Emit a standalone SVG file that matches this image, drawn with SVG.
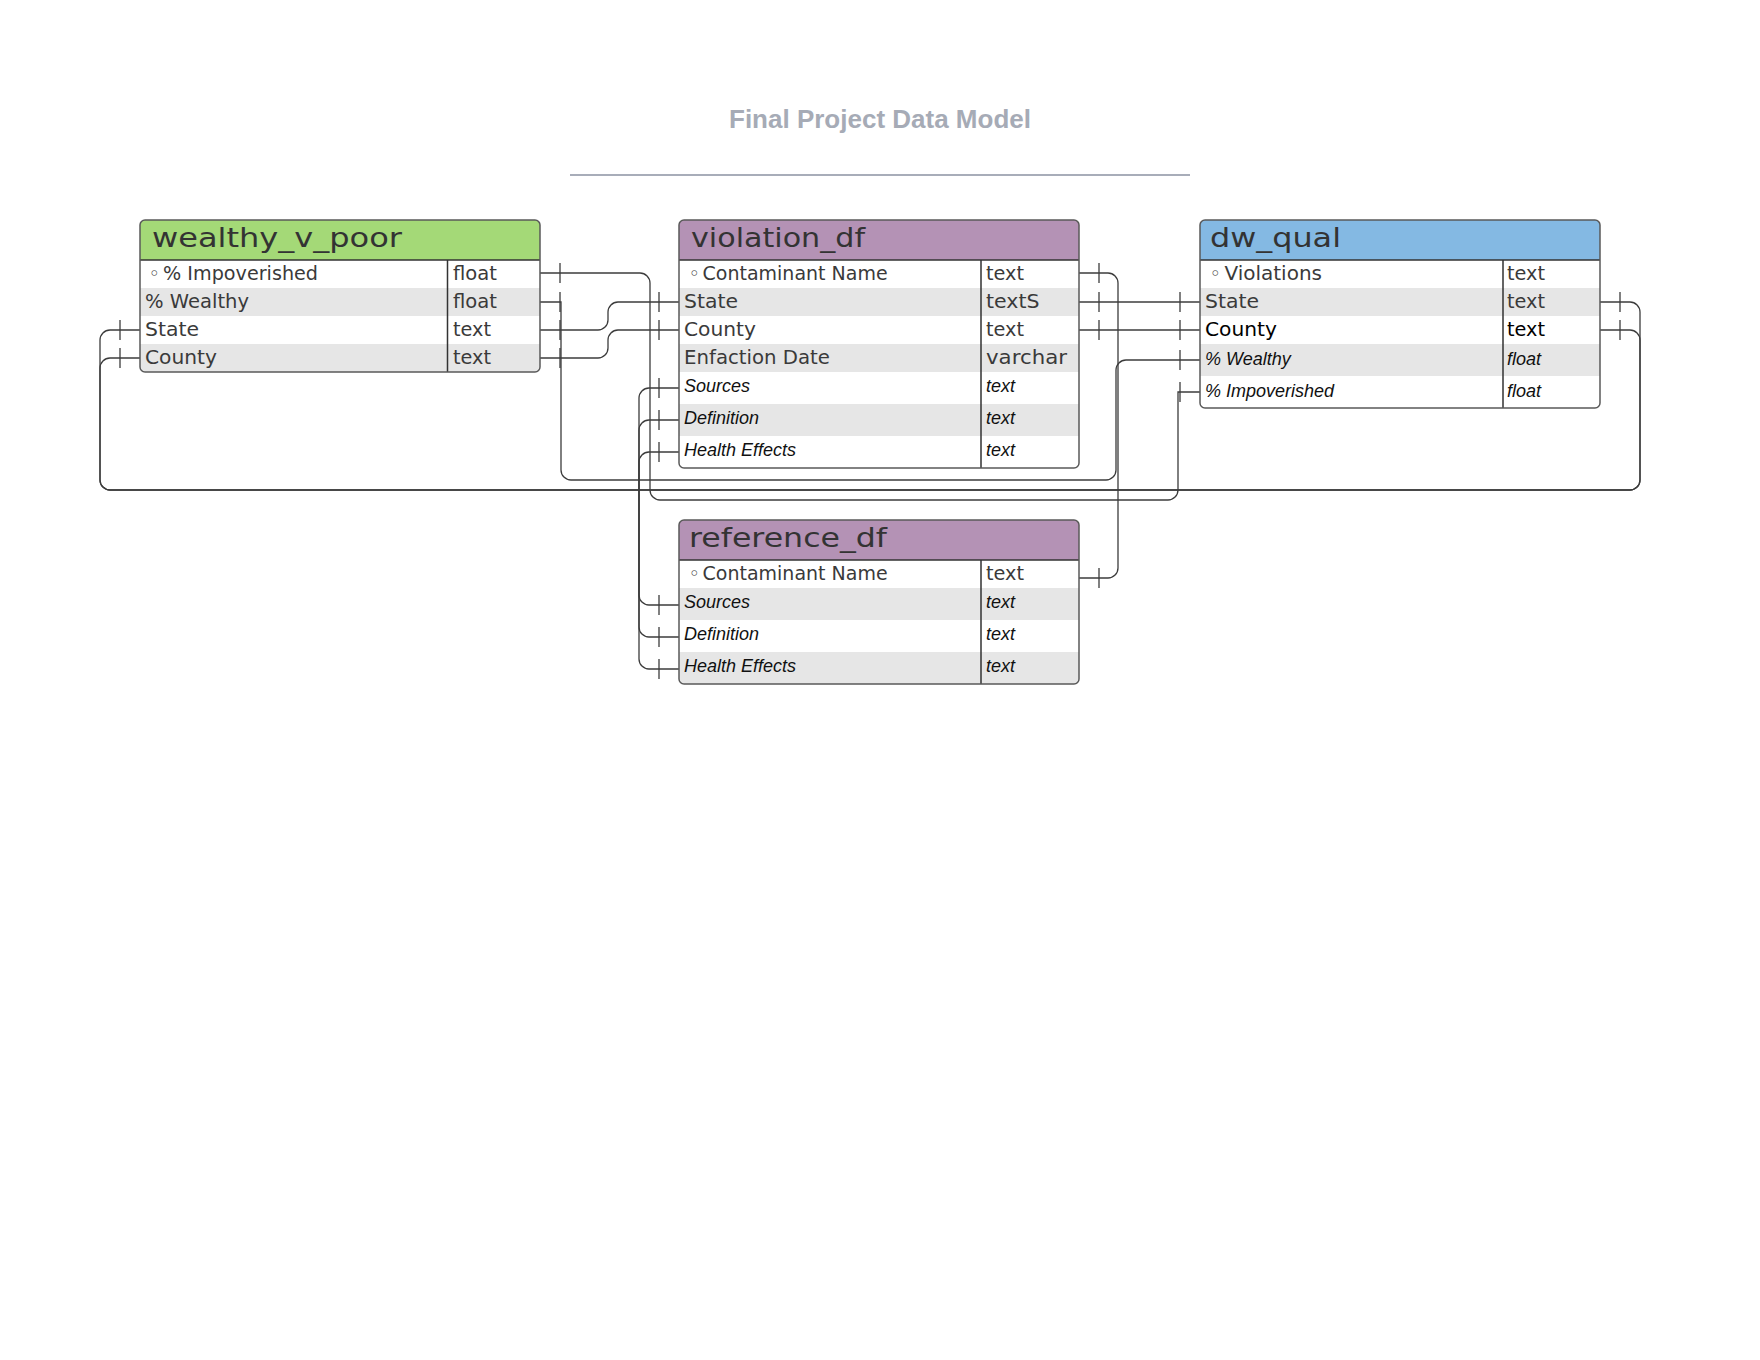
<svg xmlns="http://www.w3.org/2000/svg" width="1760" height="1360" viewBox="0 0 1760 1360">
<style>
.bg{fill:#fff}
.tb{fill:none;stroke:#5a5a5a;stroke-width:1.5}
.body{fill:#fff}
.hg{fill:#a4d977}
.hp{fill:#b492b5}
.hb{fill:#84b9e3}
.alt{fill:#e6e6e6}
.sep{stroke:#333;stroke-width:1.5;fill:none}
.ft{font-family:"DejaVu Sans","Liberation Sans",sans-serif;font-size:19px;fill:#3a3a3a}
.blk{fill:#000}
.hf{font-family:"DejaVu Sans","Liberation Sans",sans-serif;font-size:26px;fill:#333}
.it{font-family:"Liberation Sans",Arial,sans-serif;font-style:italic;font-size:18px;fill:#111}
.cn{fill:none;stroke:#3c3c3c;stroke-width:1.3;marker-start:url(#one);marker-end:url(#one)}
.title{font-family:"Liberation Sans",Arial,sans-serif;font-weight:bold;font-size:26px;fill:#a6abb6}
</style>
<defs>
<marker id="one" markerUnits="userSpaceOnUse" viewBox="-25 -12 30 24" refX="0" refY="0" markerWidth="30" markerHeight="24" orient="auto-start-reverse" overflow="visible">
<path d="M-20,-10 V10" stroke="#3c3c3c" stroke-width="1.3" fill="none"/>
</marker>
<clipPath id="cw"><rect x="140" y="220" width="400" height="152" rx="5"/></clipPath>
<clipPath id="cv"><rect x="679" y="220" width="400" height="248" rx="5"/></clipPath>
<clipPath id="cd"><rect x="1200" y="220" width="400" height="188" rx="5"/></clipPath>
<clipPath id="cr"><rect x="679" y="520" width="400" height="164" rx="5"/></clipPath>
</defs>
<rect class="bg" x="0" y="0" width="1760" height="1360"/>

<g id="title">
<text class="title" x="880" y="128" text-anchor="middle">Final Project Data Model</text>
<path d="M570,175 H1190" stroke="#a8adb9" stroke-width="2" fill="none"/>
</g>

<g id="connectors">
<path class="cn" d="M540,273 H640 A10,10 0 0 1 650,283 V490 A10,10 0 0 0 660,500 H1168 A10,10 0 0 0 1178,490 V392 H1200"/>
<path class="cn" d="M540,302 H561 V470 A10,10 0 0 0 571,480 H1106 A10,10 0 0 0 1116,470 V370 A10,10 0 0 1 1126,360 H1200"/>
<path class="cn" d="M540,330 H598 A10,10 0 0 0 608,320 V312 A10,10 0 0 1 618,302 H679"/>
<path class="cn" d="M540,358 H598 A10,10 0 0 0 608,348 V340 A10,10 0 0 1 618,330 H679"/>
<path class="cn" d="M140,330 H110 A10,10 0 0 0 100,340 V480 A10,10 0 0 0 110,490 H1630 A10,10 0 0 0 1640,480 V312 A10,10 0 0 0 1630,302 H1600"/>
<path class="cn" d="M140,358 H110 A10,10 0 0 0 100,368 V480 A10,10 0 0 0 110,490 H1630 A10,10 0 0 0 1640,480 V340 A10,10 0 0 0 1630,330 H1600"/>
<path class="cn" d="M1079,273 H1108 A10,10 0 0 1 1118,283 V568 A10,10 0 0 1 1108,578 H1079"/>
<path class="cn" d="M1079,302 H1200"/>
<path class="cn" d="M1079,330 H1200"/>
<path class="cn" d="M679,388 H649 A10,10 0 0 0 639,398 V595 A10,10 0 0 0 649,605 H679"/>
<path class="cn" d="M679,420 H649 A10,10 0 0 0 639,430 V627 A10,10 0 0 0 649,637 H679"/>
<path class="cn" d="M679,452 H649 A10,10 0 0 0 639,462 V659 A10,10 0 0 0 649,669 H679"/>
</g>

<g id="wealthy_v_poor">
<rect class="body" x="140" y="220" width="400" height="152" rx="5"/>
<g clip-path="url(#cw)">
<rect class="hg" x="140" y="220" width="400" height="40"/>
<rect class="alt" x="140" y="288" width="400" height="28"/>
<rect class="alt" x="140" y="344" width="400" height="28"/>
</g>
<path class="sep" d="M140,260 H540 M447.5,260 V372"/>
<rect class="tb" x="140" y="220" width="400" height="152" rx="5"/>
<text class="hf" x="152" y="247" textLength="250" lengthAdjust="spacingAndGlyphs">wealthy_v_poor</text>
<text class="ft" x="148.5" y="280">◦</text>
<text class="ft" x="163" y="280" textLength="155" lengthAdjust="spacingAndGlyphs">% Impoverished</text>
<text class="ft" x="453" y="280" textLength="44" lengthAdjust="spacingAndGlyphs">float</text>
<text class="ft" x="145" y="308" textLength="104" lengthAdjust="spacingAndGlyphs">% Wealthy</text>
<text class="ft" x="453" y="308" textLength="44" lengthAdjust="spacingAndGlyphs">float</text>
<text class="ft" x="145" y="336" textLength="54" lengthAdjust="spacingAndGlyphs">State</text>
<text class="ft" x="453" y="336" textLength="38" lengthAdjust="spacingAndGlyphs">text</text>
<text class="ft" x="145" y="364" textLength="72" lengthAdjust="spacingAndGlyphs">County</text>
<text class="ft" x="453" y="364" textLength="38" lengthAdjust="spacingAndGlyphs">text</text>
</g>

<g id="violation_df">
<rect class="body" x="679" y="220" width="400" height="248" rx="5"/>
<g clip-path="url(#cv)">
<rect class="hp" x="679" y="220" width="400" height="40"/>
<rect class="alt" x="679" y="288" width="400" height="28"/>
<rect class="alt" x="679" y="344" width="400" height="28"/>
<rect class="alt" x="679" y="404" width="400" height="32"/>
</g>
<path class="sep" d="M679,260 H1079 M981,260 V468"/>
<rect class="tb" x="679" y="220" width="400" height="248" rx="5"/>
<text class="hf" x="691" y="247" textLength="174" lengthAdjust="spacingAndGlyphs">violation_df</text>
<text class="ft" x="688.5" y="280">◦</text>
<text class="ft" x="702.6" y="280" textLength="185" lengthAdjust="spacingAndGlyphs">Contaminant Name</text>
<text class="ft" x="986" y="280" textLength="38" lengthAdjust="spacingAndGlyphs">text</text>
<text class="ft" x="684" y="308" textLength="54" lengthAdjust="spacingAndGlyphs">State</text>
<text class="ft" x="986" y="308" textLength="53.5" lengthAdjust="spacingAndGlyphs">textS</text>
<text class="ft" x="684" y="336" textLength="72" lengthAdjust="spacingAndGlyphs">County</text>
<text class="ft" x="986" y="336" textLength="38" lengthAdjust="spacingAndGlyphs">text</text>
<text class="ft" x="684" y="364" textLength="146" lengthAdjust="spacingAndGlyphs">Enfaction Date</text>
<text class="ft" x="986" y="364" textLength="81" lengthAdjust="spacingAndGlyphs">varchar</text>
<text class="it" x="684" y="392">Sources</text>
<text class="it" x="986" y="392">text</text>
<text class="it" x="684" y="424">Definition</text>
<text class="it" x="986" y="424">text</text>
<text class="it" x="684" y="456">Health Effects</text>
<text class="it" x="986" y="456">text</text>
</g>

<g id="dw_qual">
<rect class="body" x="1200" y="220" width="400" height="188" rx="5"/>
<g clip-path="url(#cd)">
<rect class="hb" x="1200" y="220" width="400" height="40"/>
<rect class="alt" x="1200" y="288" width="400" height="28"/>
<rect class="alt" x="1200" y="344" width="400" height="32"/>
</g>
<path class="sep" d="M1200,260 H1600 M1503,260 V408"/>
<rect class="tb" x="1200" y="220" width="400" height="188" rx="5"/>
<text class="hf" x="1210" y="247" textLength="131" lengthAdjust="spacingAndGlyphs">dw_qual</text>
<text class="ft" x="1209.5" y="280">◦</text>
<text class="ft" x="1224.4" y="280" textLength="97.6" lengthAdjust="spacingAndGlyphs">Violations</text>
<text class="ft" x="1507" y="280" textLength="38" lengthAdjust="spacingAndGlyphs">text</text>
<text class="ft" x="1205" y="308" textLength="54" lengthAdjust="spacingAndGlyphs">State</text>
<text class="ft" x="1507" y="308" textLength="38" lengthAdjust="spacingAndGlyphs">text</text>
<text class="ft blk" x="1205" y="336" textLength="72" lengthAdjust="spacingAndGlyphs">County</text>
<text class="ft blk" x="1507" y="336" textLength="38" lengthAdjust="spacingAndGlyphs">text</text>
<text class="it" x="1205" y="365">% Wealthy</text>
<text class="it" x="1507" y="365">float</text>
<text class="it" x="1205" y="397">% Impoverished</text>
<text class="it" x="1507" y="397">float</text>
</g>

<g id="reference_df">
<rect class="body" x="679" y="520" width="400" height="164" rx="5"/>
<g clip-path="url(#cr)">
<rect class="hp" x="679" y="520" width="400" height="40"/>
<rect class="alt" x="679" y="588" width="400" height="32"/>
<rect class="alt" x="679" y="652" width="400" height="32"/>
</g>
<path class="sep" d="M679,560 H1079 M981,560 V684"/>
<rect class="tb" x="679" y="520" width="400" height="164" rx="5"/>
<text class="hf" x="689" y="547" textLength="198" lengthAdjust="spacingAndGlyphs">reference_df</text>
<text class="ft" x="688.5" y="580">◦</text>
<text class="ft" x="702.6" y="580" textLength="185" lengthAdjust="spacingAndGlyphs">Contaminant Name</text>
<text class="ft" x="986" y="580" textLength="38" lengthAdjust="spacingAndGlyphs">text</text>
<text class="it" x="684" y="608">Sources</text>
<text class="it" x="986" y="608">text</text>
<text class="it" x="684" y="640">Definition</text>
<text class="it" x="986" y="640">text</text>
<text class="it" x="684" y="672">Health Effects</text>
<text class="it" x="986" y="672">text</text>
</g>
</svg>
